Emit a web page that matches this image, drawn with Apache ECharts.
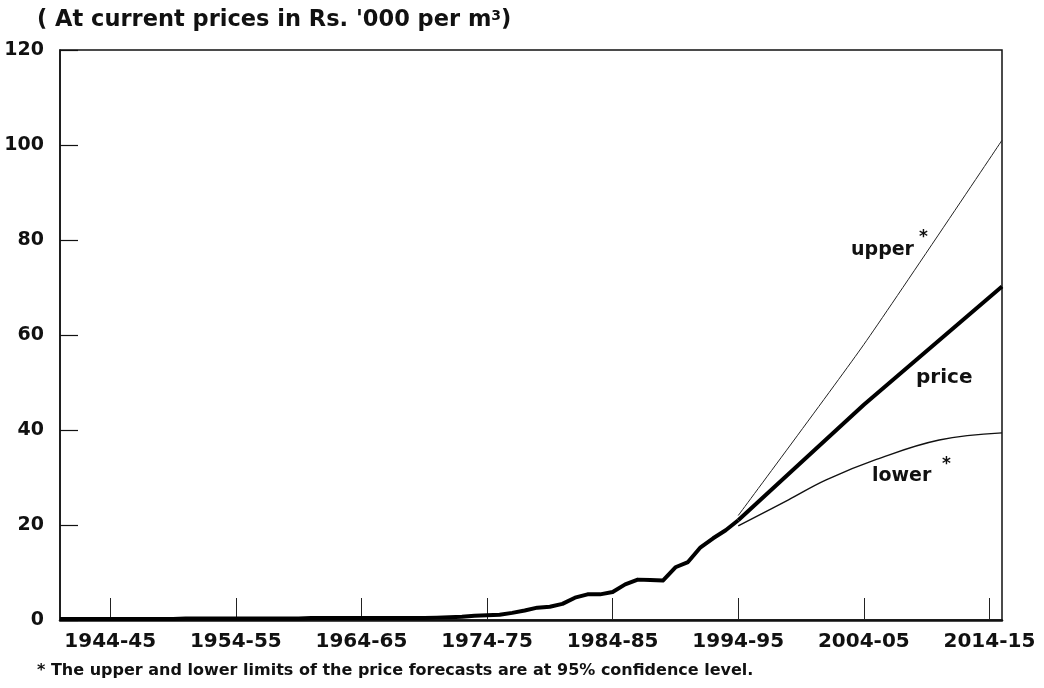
<!DOCTYPE html>
<html>
<head>
<meta charset="utf-8">
<script src="https://cdn.jsdelivr.net/npm/echarts@6/dist/echarts.min.js"></script>
<style>
html, body { margin: 0; background: #fff; }
#main { width: 1044px; height: 688px; }
</style>
</head>
<body>
<div id="main"></div>
<script>
// actual prices, 1940-41 .. 1994-95
const histYears = [1940, 1941, 1942, 1943, 1944, 1945, 1946, 1947, 1948, 1949,
  1950, 1951, 1952, 1953, 1954, 1955, 1956, 1957, 1958, 1959,
  1960, 1961, 1962, 1963, 1964, 1965, 1966, 1967, 1968, 1969,
  1970, 1971, 1972, 1973, 1974, 1975, 1976, 1977, 1978, 1979,
  1980, 1981, 1982, 1983, 1984, 1985, 1986, 1987, 1988, 1989,
  1990, 1991, 1992, 1993, 1994]
const histPrice = [0.2, 0.2, 0.2, 0.2, 0.2, 0.2, 0.2, 0.2, 0.2, 0.2,
  0.3, 0.3, 0.3, 0.3, 0.3, 0.3, 0.3, 0.3, 0.3, 0.3,
  0.4, 0.4, 0.4, 0.4, 0.4, 0.4, 0.4, 0.4, 0.4, 0.4,
  0.5, 0.6, 0.7, 0.9, 1.0, 1.1, 1.5, 2.0, 2.6, 2.8,
  3.4, 4.7, 5.4, 5.4, 5.9, 7.5, 8.5, 8.4, 8.3, 11.1,
  12.2, 15.3, 17.2, 18.9, 21.0]

// forecasts
const fcYears = [1994, 2004, 2015]
const fcPrice = [21.0, 45.3, 70.2]
const upperYears = [1994, 2004, 2015]
const upperVals = [22.0, 58.0, 101.0]
const lowerYears = [1994, 1998, 2001, 2005, 2010, 2015]
const lowerVals = [19.8, 25.3, 29.5, 33.8, 37.9, 39.4]

const xTicks = [1944, 1954, 1964, 1974, 1984, 1994, 2004, 2014]

const pairs = (xs, ys) => xs.map((x, i) => [x, ys[i]])
const boldFont = 'DejaVu Sans'

const chart = echarts.init(document.getElementById('main'))
chart.setOption({
  backgroundColor: '#fff',
  animation: false,
  grid: {
    left: 60,
    right: 42,
    top: 50,
    bottom: 68,
    show: true,
    borderColor: '#111',
    borderWidth: 1.5
  },
  xAxis: {
    type: 'value',
    min: 1940,
    max: 2015,
    splitLine: { show: false },
    axisLine: { lineStyle: { color: '#111', width: 2.5 } },
    axisTick: {
      show: true,
      inside: true,
      length: 22,
      customValues: xTicks,
      lineStyle: { color: '#222', width: 1 }
    },
    axisLabel: {
      customValues: xTicks,
      margin: 12,
      color: '#111',
      fontFamily: boldFont,
      fontWeight: 'bold',
      fontSize: 20,
      formatter: v => v + '-' + String(v + 1).slice(2)
    }
  },
  yAxis: {
    type: 'value',
    min: 0,
    max: 120,
    interval: 20,
    splitLine: { show: false },
    axisLine: { show: true, lineStyle: { color: '#111', width: 1.5 } },
    axisTick: { show: true, inside: true, length: 18, lineStyle: { color: '#111', width: 1.2 } },
    axisLabel: {
      margin: 16,
      color: '#111',
      fontFamily: boldFont,
      fontWeight: 'bold',
      fontSize: 19
    }
  },
  series: [
    {
      name: 'upper',
      type: 'line',
      data: pairs(upperYears, upperVals),
      smooth: 0.2,
      showSymbol: false,
      lineStyle: { color: '#222', width: 1 }
    },
    {
      name: 'lower',
      type: 'line',
      data: pairs(lowerYears, lowerVals),
      smooth: 0.4,
      showSymbol: false,
      lineStyle: { color: '#111', width: 1.4 }
    },
    {
      name: 'price forecast',
      type: 'line',
      data: pairs(fcYears, fcPrice),
      showSymbol: false,
      lineStyle: { color: '#000', width: 4 }
    },
    {
      name: 'price',
      type: 'line',
      data: pairs(histYears, histPrice),
      showSymbol: false,
      lineStyle: { color: '#000', width: 4, join: 'round' }
    }
  ],
  graphic: [
    {
      type: 'text',
      left: 37,
      top: 9,
      style: {
        text: "( At current prices in Rs. '000 per m{sup|3})",
        fill: '#111',
        font: 'bold 22.5px "DejaVu Sans"',
        rich: {
          sup: { fontSize: 14, fontWeight: 'bold', fontFamily: boldFont, verticalAlign: 'top', fill: '#111' }
        }
      }
    },
    {
      type: 'text',
      left: 37,
      top: 663,
      style: {
        text: '* The upper and lower limits of the price forecasts are at 95% confidence level.',
        fill: '#111',
        font: 'bold 16px "DejaVu Sans"'
      }
    },
    {
      type: 'text', left: 851, top: 241,
      style: { text: 'upper', fill: '#111', font: 'bold 19px "DejaVu Sans"' }
    },
    {
      type: 'text', left: 919, top: 229,
      style: { text: '*', fill: '#111', font: 'bold 17px "DejaVu Sans"' }
    },
    {
      type: 'text', left: 916, top: 368,
      style: { text: 'price', fill: '#111', font: 'bold 20px "DejaVu Sans"' }
    },
    {
      type: 'text', left: 872, top: 467,
      style: { text: 'lower', fill: '#111', font: 'bold 19px "DejaVu Sans"' }
    },
    {
      type: 'text', left: 942, top: 456,
      style: { text: '*', fill: '#111', font: 'bold 17px "DejaVu Sans"' }
    }
  ]
})
</script>
</body>
</html>
